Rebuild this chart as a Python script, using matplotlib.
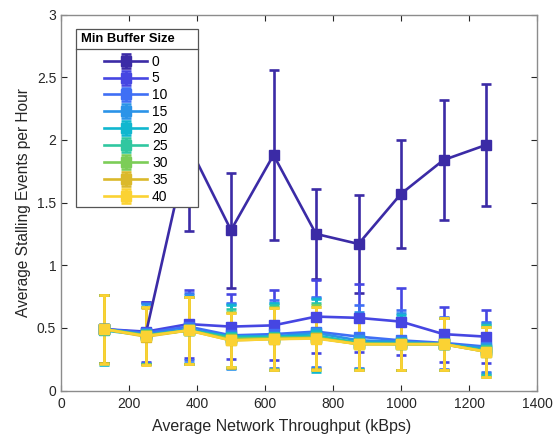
import matplotlib
matplotlib.use('Agg')
import matplotlib.pyplot as plt
from matplotlib.lines import Line2D
from matplotlib.patches import Rectangle

plt.rcParams['font.family'] = ['Liberation Sans', 'DejaVu Sans']

# throughput bins (kBps)
throughput = [125, 250, 375, 500, 625, 750, 875, 1000, 1125, 1250]

buffer_sizes = ['0', '5', '10', '15', '20', '25', '30', '35', '40']

stall_0  = [0.49, 0.46, 1.96, 1.28, 1.88, 1.25, 1.17, 1.57, 1.84, 1.96]
err_0    = [0.27, 0.25, 0.69, 0.46, 0.68, 0.36, 0.39, 0.43, 0.48, 0.49]
stall_5  = [0.49, 0.47, 0.53, 0.51, 0.52, 0.59, 0.58, 0.55, 0.45, 0.43]
err_5    = [0.27, 0.24, 0.27, 0.26, 0.28, 0.29, 0.27, 0.27, 0.22, 0.21]
stall_10 = [0.49, 0.46, 0.51, 0.44, 0.45, 0.47, 0.43, 0.40, 0.38, 0.35]
err_10   = [0.27, 0.24, 0.27, 0.26, 0.27, 0.28, 0.25, 0.24, 0.21, 0.20]
stall_15 = [0.49, 0.45, 0.49, 0.43, 0.43, 0.46, 0.40, 0.39, 0.37, 0.34]
err_15   = [0.27, 0.24, 0.27, 0.26, 0.27, 0.28, 0.23, 0.23, 0.21, 0.20]
stall_20 = [0.48, 0.44, 0.48, 0.43, 0.43, 0.44, 0.38, 0.38, 0.37, 0.32]
err_20   = [0.28, 0.23, 0.27, 0.25, 0.27, 0.29, 0.22, 0.22, 0.21, 0.20]
stall_25 = [0.49, 0.44, 0.48, 0.42, 0.42, 0.43, 0.38, 0.37, 0.37, 0.32]
err_25   = [0.27, 0.23, 0.27, 0.23, 0.26, 0.27, 0.21, 0.21, 0.21, 0.20]
stall_30 = [0.49, 0.44, 0.48, 0.41, 0.42, 0.42, 0.37, 0.37, 0.37, 0.31]
err_30   = [0.27, 0.23, 0.27, 0.22, 0.25, 0.26, 0.21, 0.21, 0.21, 0.20]
stall_35 = [0.49, 0.43, 0.48, 0.40, 0.41, 0.42, 0.37, 0.37, 0.37, 0.31]
err_35   = [0.27, 0.23, 0.27, 0.22, 0.25, 0.25, 0.21, 0.21, 0.21, 0.20]
stall_40 = [0.49, 0.435, 0.48, 0.40, 0.41, 0.415, 0.37, 0.37, 0.37, 0.31]
err_40   = [0.275, 0.23, 0.27, 0.215, 0.245, 0.25, 0.21, 0.21, 0.21, 0.20]

means = [stall_0, stall_5, stall_10, stall_15, stall_20, stall_25, stall_30, stall_35, stall_40]
errs  = [err_0, err_5, err_10, err_15, err_20, err_25, err_30, err_35, err_40]

colors = ['#3b2ba6', '#4646e2', '#3f6ff5', '#2b93e8', '#10b7cf',
          '#30c7a0', '#7ccd57', '#dbb92b', '#fbd233']

W, H = 559, 437
fig = plt.figure(figsize=(W / 100, H / 100), dpi=100)
ax = fig.add_axes([61 / W, 1 - 390.5 / H, 476 / W, 375.8 / H])

for i in range(len(buffer_sizes)):
    ax.errorbar(throughput, means[i], yerr=errs[i], color=colors[i], marker='s',
                markersize=6.5, linewidth=1.9, elinewidth=1.9, capsize=3.5,
                capthick=1.9, label=buffer_sizes[i])

ax.set_xlim(0, 1400)
ax.set_ylim(0, 3)
ax.set_xticks(range(0, 1401, 200))
ax.set_yticks([0, 0.5, 1, 1.5, 2, 2.5, 3])
ax.set_yticklabels(['0', '0.5', '1', '1.5', '2', '2.5', '3'])
ax.tick_params(direction='in', top=True, right=True, length=4, width=0.8,
               color='#262626', labelsize=10, labelcolor='#262626')
ax.tick_params(axis='x', pad=5)
for sp in ax.spines.values():
    sp.set_color('#8c8c8c')
    sp.set_linewidth(1.0)

ax.set_xlabel('Average Network Throughput (kBps)', fontsize=11.5, color='#262626')
ax.xaxis.set_label_coords(0.464, -0.075)
ax.set_ylabel('Average Stalling Events per Hour', fontsize=11.2, color='#262626')

# legend: entries from matplotlib, frame and title drawn by hand (MATLAB look)
leg = ax.legend(loc='upper left', bbox_to_anchor=(104 / W, 1 - 54.5 / H),
                bbox_transform=fig.transFigure, frameon=False,
                fontsize=10, handlelength=3.1, labelspacing=0.21,
                handletextpad=0.35, borderpad=0, borderaxespad=0)
leg.set_zorder(6)

tf = fig.transFigure
ax.add_artist(Rectangle((75.7 / W, 1 - 206.7 / H), (198.3 - 75.7) / W,
                        (206.7 - 29.3) / H, transform=tf, facecolor='white',
                        edgecolor='#555555', linewidth=0.9, zorder=5))
ax.add_artist(Line2D([75.7 / W, 198.3 / W], [1 - 49.3 / H, 1 - 49.3 / H],
                     transform=tf, color='#555555', linewidth=0.9, zorder=5.5))
ax.text(81 / W, 1 - 39.5 / H, 'Min Buffer Size', transform=tf, fontsize=9.4,
        fontweight='bold', ha='left', va='center', zorder=7)

fig.savefig('out.png', dpi=100)
